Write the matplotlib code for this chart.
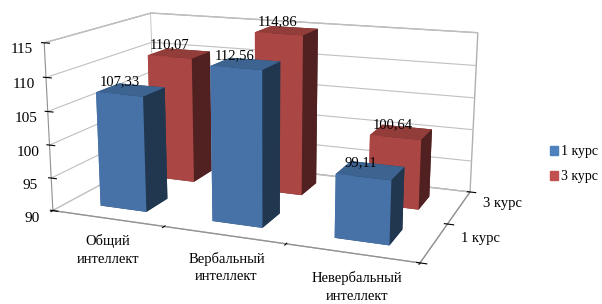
import numpy as np
import matplotlib.pyplot as plt
from matplotlib.patches import Patch

plt.rcParams['font.family'] = ['Liberation Serif', 'DejaVu Serif']

categories = ['Общий\nинтеллект', 'Вербальный\nинтеллект', 'Невербальный\nинтеллект']
series = ['1 курс', '3 курс']
values_1 = [107.33, 112.56, 99.11]
values_3 = [110.07, 114.86, 100.64]
z_ticks = [90, 95, 100, 105, 110, 115]

colors = ['#4F81BD', '#C0504D']
base = 90

fig = plt.figure(figsize=(6.02, 3.04), dpi=100)
ax = fig.add_axes([-0.055, -0.055, 0.98, 1.28], projection='3d')
ax.set_proj_type('persp', focal_length=0.5)
ax.set_box_aspect((3.2, 1.85, 1.45), zoom=1.15)
ax.view_init(elev=14, azim=-68)

bw, bd = 0.42, 0.42
# back series first so front bars overlap
for si in [1, 0]:
    vals = [values_1, values_3][si]
    for ci, v in enumerate(vals):
        ax.bar3d(ci - bw / 2, si - bd / 2, base, bw, bd, v - base,
                 color=colors[si], shade=True, edgecolor='none')
        ax.text(ci - 0.05, si - 0.1, v + 0.5, f"{v:.2f}".replace('.', ','),
                fontsize=10.5, ha='center', va='bottom', zorder=10)

ax.set_xlim(-0.5, 2.5)
ax.set_ylim(-0.5, 1.5)
ax.set_zlim(90, 115)

# ticks between categories / series, labels placed separately (Excel style)
ax.set_xticks(np.arange(len(categories) + 1) - 0.5)
ax.set_xticklabels([])
ax.set_yticks(np.arange(len(series) + 1) - 0.5)
ax.set_yticklabels([])
ax.set_zticks(z_ticks)
ax.set_zticklabels([str(t) for t in z_ticks], fontsize=11)
ax.zaxis._axinfo['juggled'] = (1, 2, 0)

for ci, lab in enumerate(categories):
    ax.text(ci + 0.08, -0.65, 88.6, lab, fontsize=10.5, ha='center', va='top',
            linespacing=1.45)
for si, lab in enumerate(series):
    ax.text(2.7, si - 0.05, 91.3, lab, fontsize=10.5, ha='left', va='center')

for axis in (ax.xaxis, ax.yaxis, ax.zaxis):
    axis.set_pane_color((1, 1, 1, 1))
    axis.pane.set_edgecolor('#b0b0b0')
    axis.line.set_color('#909090')
    axis._axinfo['tick']['color'] = '#909090'
ax.xaxis._axinfo['grid']['linewidth'] = 0
ax.yaxis._axinfo['grid']['linewidth'] = 0
ax.zaxis._axinfo['grid']['color'] = '#c0c0c0'
ax.zaxis._axinfo['grid']['linewidth'] = 0.8
ax.tick_params(axis='z', pad=-1)

handles = [Patch(color=c) for c in colors]
fig.legend(handles, series, loc='center left', bbox_to_anchor=(0.913, 0.46),
           frameon=False, fontsize=10, handlelength=0.6, handleheight=0.6,
           handletextpad=0.25, labelspacing=0.85, borderpad=0, borderaxespad=0)

fig.savefig('out.png', dpi=100)
